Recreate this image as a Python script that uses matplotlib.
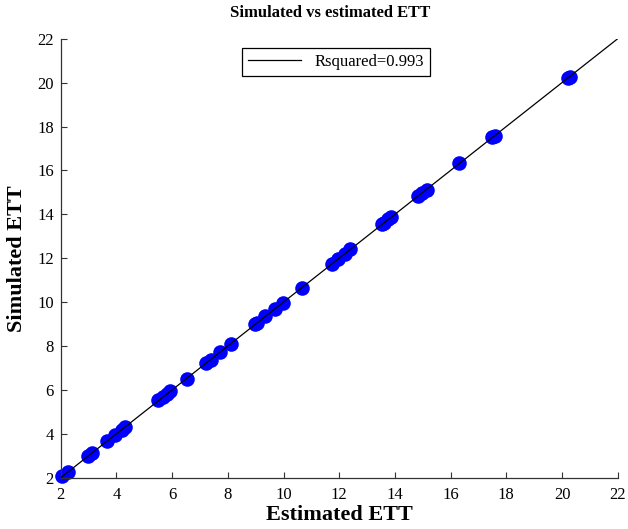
import matplotlib
matplotlib.use("Agg")
import matplotlib.pyplot as plt

plt.rcParams['font.family'] = ['Liberation Serif', 'DejaVu Serif']

estimated = [2.04, 2.27, 2.99, 3.13, 3.65, 3.95, 4.19, 4.31, 5.50, 5.68, 5.80, 5.92,
             6.52, 7.22, 7.40, 7.72, 8.12, 8.98, 9.05, 9.34, 9.69, 9.99, 10.65,
             11.73, 11.97, 12.21, 12.39, 13.53, 13.62, 13.75, 13.85, 14.84, 14.98,
             15.14, 16.31, 17.50, 17.58, 20.20, 20.27]
simulated = [2.06, 2.25, 3.01, 3.12, 3.67, 3.96, 4.17, 4.30, 5.52, 5.66, 5.81, 5.94,
             6.50, 7.24, 7.38, 7.74, 8.10, 9.00, 9.03, 9.36, 9.70, 9.97, 10.66,
             11.75, 11.95, 12.20, 12.41, 13.55, 13.60, 13.77, 13.86, 14.82, 14.99,
             15.12, 16.33, 17.52, 17.57, 20.22, 20.25]
fit_x = [2, 22]
fit_y = [2, 22]
ticks = list(range(2, 23, 2))
r2_label = "Rsquared=0.993"

fig = plt.figure(figsize=(6.28, 5.29), dpi=100)
ax = fig.add_axes([0.0967, 0.0970, 0.8869, 0.8298])

ax.plot(estimated, simulated, 'o', color='#0000ff', markersize=10.5, markeredgewidth=0,
        zorder=2, clip_on=False)
line, = ax.plot(fit_x, fit_y, '-', color='black', linewidth=0.9, zorder=3, label=r2_label)

ax.set_xlim(2, 22)
ax.set_ylim(2, 22)
ax.set_xticks(ticks)
ax.set_yticks(ticks)
ax.tick_params(direction='in', length=4, width=0.8, labelsize=12, colors='#333333', labelcolor='black')
ax.tick_params(axis='x', pad=7)
ax.tick_params(axis='y', pad=5)
for s in ['top', 'right']:
    ax.spines[s].set_visible(False)
for s in ['left', 'bottom']:
    ax.spines[s].set_color('#333333')
    ax.spines[s].set_linewidth(0.9)

ax.set_xlabel('Estimated ETT', fontsize=16, fontweight='bold', labelpad=1)
ax.set_ylabel('Simulated ETT', fontsize=16, fontweight='bold', labelpad=7)
ax.set_title('Simulated vs estimated ETT', fontsize=12, fontweight='bold', pad=16, x=0.484)

leg = ax.legend(handles=[line], loc='upper center', bbox_to_anchor=(0.494, 0.979),
                fontsize=12, frameon=True, fancybox=False, handlelength=3.2,
                borderpad=0.35, handletextpad=0.8, borderaxespad=0)
leg.get_frame().set_edgecolor('black')
leg.get_frame().set_linewidth(0.9)
leg.get_frame().set_alpha(1)

fig.savefig('out.png', dpi=100)
